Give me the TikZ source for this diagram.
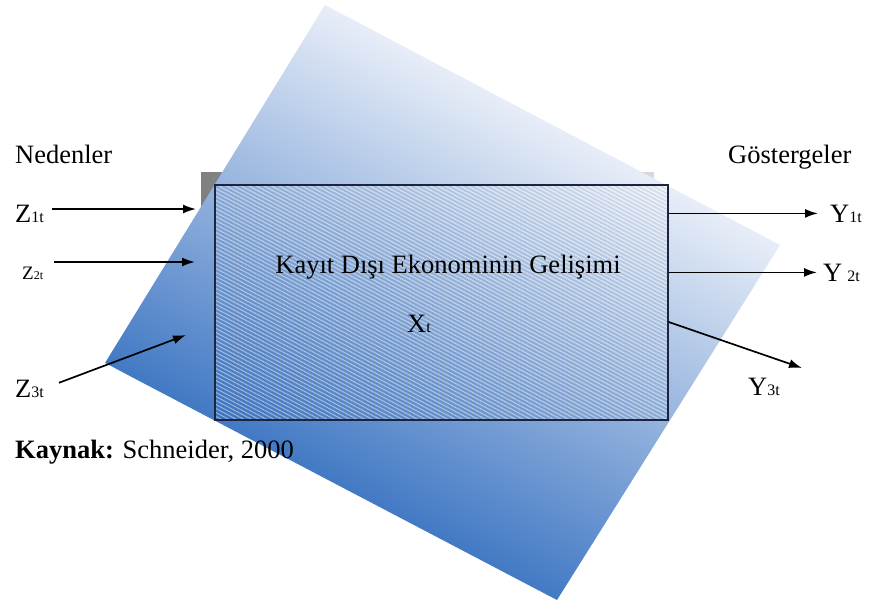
\documentclass[tikz,border=0pt]{standalone}
\usepackage{fontspec}
\setmainfont{Liberation Serif}
\usetikzlibrary{arrows.meta,positioning,calc}
\definecolor{paneltop}{RGB}{232,238,248}
\definecolor{panelmid}{RGB}{176,198,229}
\definecolor{panelbottom}{RGB}{66,121,196}
\definecolor{boxline}{RGB}{28,36,64}
\newcommand{\ix}[1]{{\fontsize{16}{16}\selectfont #1}}

\begin{document}
\begin{tikzpicture}[x=1pt,y=-1pt,
  lbl/.style={inner sep=0pt,font=\fontsize{26.5}{30}\selectfont},
  arr/.style={-{Latex[length=13pt,width=9pt]},line width=1.7pt}]
  \useasboundingbox[fill=white] (0,0) rectangle (873,606);
  % shadow of the box, mostly under the panel
  \shade[left color=black!50,right color=black!15] (201,172) rectangle (654,407);
  % tilted panel
  \begin{scope}
    \clip (325,5) -- (780,245) -- (557,600) -- (105,363) -- cycle;
    \begin{scope}[transform canvas={shift={(442,303)},rotate=-28}]
      \shade[top color=paneltop,middle color=panelmid,bottom color=panelbottom] (-320,-211) rectangle (320,211);
    \end{scope}
  \end{scope}
  % hatched box
  \begin{scope}
    \clip (215,185) rectangle (668,420);
    \foreach \c in {-60,-56,...,424}{
      \draw[white,opacity=.55,line width=.6pt] (215,\c) -- (668,\c+240);
      \draw[black,opacity=.12,line width=.5pt] (215,\c+2) -- (668,\c+242);
    }
  \end{scope}
  \node[draw=boxline,line width=1.4pt,minimum width=453pt,minimum height=235pt,inner sep=0pt] (box) at (441.5,302.5) {};
  \node[lbl,anchor=base] (title) at (448,273) {Kayıt Dışı Ekonominin Gelişimi};
  \node[lbl,anchor=base west] (xt) at (407,332) {X\ix{t}};

  % causes
  \node[lbl,anchor=base west] (causes) at (15,163) {Nedenler};
  \node[lbl,anchor=base west] (z1) at (15,222) {Z\ix{1t}};
  \node[lbl,anchor=base west,font=\fontsize{19}{20}\selectfont] (z2) at (22,279) {Z{\fontsize{12}{12}\selectfont 2t}};
  \node[lbl,anchor=base west] (z3) at (15,397) {Z\ix{3t}};
  \coordinate (z1tip) at (196,209);
  \coordinate (z2tip) at (195,262);
  \coordinate (z3tip) at (186,335);
  \draw[arr,shorten <=8pt] (z1.east |- z1tip) -- (z1tip);
  \draw[arr,shorten <=11pt] (z2.east |- z2tip) -- (z2tip);
  \draw[arr,shorten <=16pt] (z3.east) -- (z3tip);

  % indicators
  \node[lbl,anchor=base west] (signs) at (728,163) {Göstergeler};
  \node[lbl,anchor=base west] (y1) at (830,222) {Y\ix{1t}};
  \node[lbl,anchor=base west] (y2) at (823,281) {Y\hspace{5pt}\ix{2t}};
  \node[lbl,anchor=base west] (y3) at (748,395) {Y\ix{3t}};
  \coordinate (y3tip) at (802,368);
  \draw[arr,shorten >=12pt] (box.east |- y1) -- (y1.west);
  \draw[arr,shorten >=6pt] (box.east |- y2) -- (y2.west);
  \draw[arr] ($(box.east)+(0,19.5)$) -- (y3tip);

  \node[lbl,anchor=base west] (src) at (15,458) {\textbf{Kaynak:} Schneider, 2000};
\end{tikzpicture}
\end{document}
